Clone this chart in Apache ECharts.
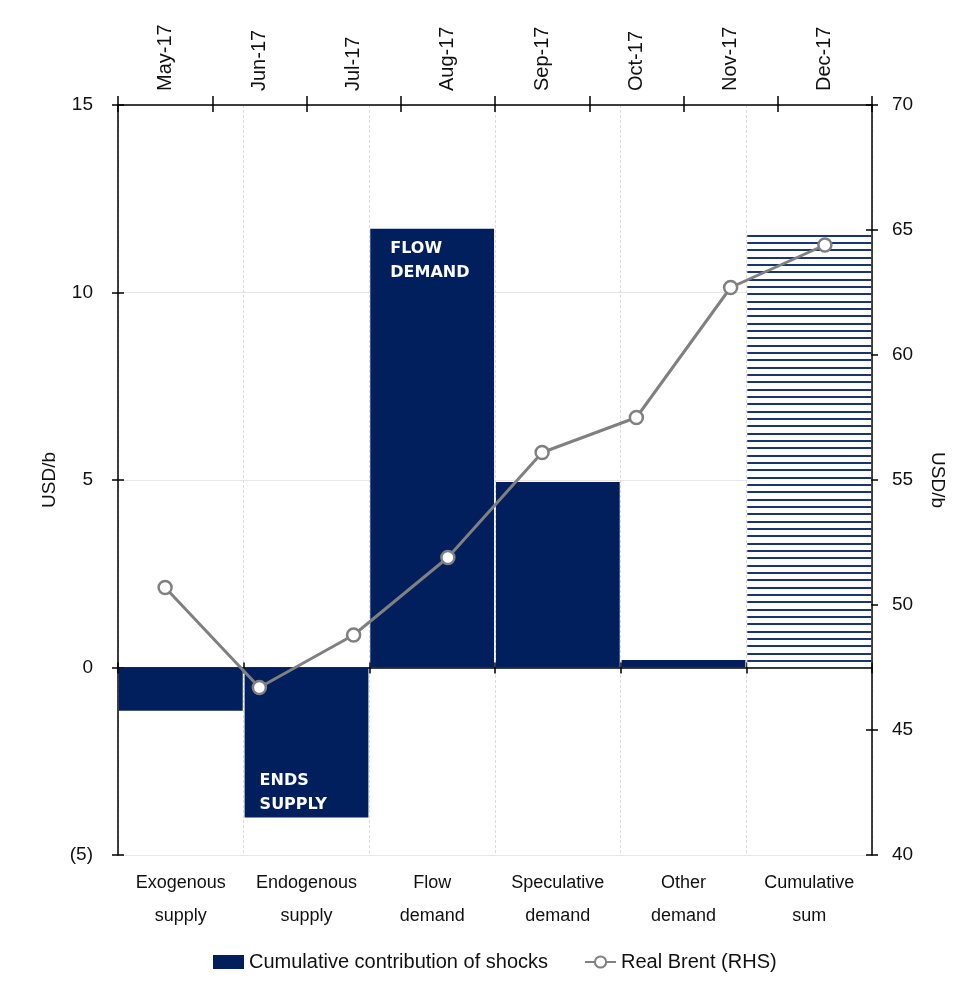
<!DOCTYPE html>
<html>
<head>
<meta charset="utf-8">
<script src="https://cdn.jsdelivr.net/npm/echarts@6/dist/echarts.min.js"></script>
<style>
  html, body { margin: 0; padding: 0; background: #fff; }
  #chart { width: 972px; height: 981px; }
</style>
</head>
<body>
<div id="chart"></div>
<script>
// Shock categories on the bottom axis
const categories = ['Exogenous\nsupply', 'Endogenous\nsupply', 'Flow\ndemand', 'Speculative\ndemand', 'Other\ndemand', 'Cumulative\nsum'];
// Cumulative contribution of each shock (USD/b)
const shocks = [-1.15, -4.0, 11.7, 4.95, 0.2, 11.55];
// Tags written inside selected bars
const barTags = ['', 'ENDS\nSUPPLY', 'FLOW\nDEMAND', '', '', ''];
// Months on the top axis
const months = ['May-17', 'Jun-17', 'Jul-17', 'Aug-17', 'Sep-17', 'Oct-17', 'Nov-17', 'Dec-17'];
// Real Brent price (USD/b, right axis)
const brent = [50.7, 46.7, 48.8, 51.9, 56.1, 57.5, 62.7, 64.4];

const NAVY = '#001F5C';
const GREY = '#808080';
const FONT = 'Liberation Sans, Arial, sans-serif';

// Horizontal-line hatch for the cumulative bar
function makeHatch() {
  const c = document.createElement('canvas');
  c.width = 8; c.height = 22;
  const ctx = c.getContext('2d');
  ctx.fillStyle = '#ffffff';
  ctx.fillRect(0, 0, 8, 22);
  ctx.fillStyle = '#1b3570';
  // three lines per tile, about 7.3px apart
  ctx.fillRect(0, 0, 8, 2);
  ctx.fillRect(0, 7, 8, 2);
  ctx.fillRect(0, 15, 8, 2);
  return { image: c, repeat: 'repeat' };
}
const hatch = makeHatch();

const barData = shocks.map((v, i) => {
  const item = { value: v };
  if (barTags[i]) {
    item.label = {
      show: true,
      formatter: barTags[i],
      position: v < 0 ? 'insideBottomLeft' : 'insideTopLeft',
      distance: v < 0 ? 1 : 8,
      padding: [0, 0, 0, v < 0 ? 14 : 12],
      color: '#ffffff',
      fontFamily: 'DejaVu Sans, sans-serif',
      fontWeight: 'bold',
      fontSize: 16,
      lineHeight: 24
    };
  }
  if (i === shocks.length - 1) {
    item.itemStyle = { color: hatch };
  }
  return item;
});

const chart = echarts.init(document.getElementById('chart'), null, { renderer: 'canvas' });

const axisLine = { show: true, onZero: false, lineStyle: { color: '#000', width: 1.5 } };

chart.setOption({
  animation: false,
  backgroundColor: '#ffffff',
  textStyle: { fontFamily: FONT },
  grid: { left: 118, right: 100, top: 105, bottom: 126, containLabel: false },
  legend: {
    left: 213,
    top: 952,
    padding: 0,
    itemWidth: 31,
    itemHeight: 14,
    itemGap: 36,
    textStyle: { fontSize: 20, color: '#111', fontFamily: FONT },
    data: [
      { name: 'Cumulative contribution of shocks', icon: 'rect' },
      { name: 'Real Brent (RHS)' }
    ]
  },
  xAxis: [
    { // category labels along the bottom edge
      type: 'category',
      data: categories,
      position: 'bottom',
      axisLine: { show: false, onZero: false },
      axisTick: { show: false },
      axisLabel: { fontSize: 18, color: '#111', lineHeight: 33, margin: 12, interval: 0 },
      splitLine: { show: true, lineStyle: { color: '#dcdcdc', type: [3, 2], width: 1 } }
    },
    { // month axis across the top
      type: 'category',
      data: months,
      position: 'top',
      axisLine: axisLine,
      axisTick: { show: true, length: 9, lineStyle: { color: '#000', width: 1.5 } },
      axisLabel: { rotate: -90, fontSize: 20, color: '#111', margin: 14, interval: 0 },
      splitLine: { show: false }
    },
    { // inner half of the top ticks
      type: 'category',
      data: months,
      position: 'top',
      axisLine: { show: false, onZero: false },
      axisTick: { show: true, inside: true, length: 7, lineStyle: { color: '#000', width: 1.5 } },
      axisLabel: { show: false },
      splitLine: { show: false }
    },
    { // zero line with downward ticks
      type: 'category',
      data: categories,
      position: 'bottom',
      axisLine: { show: true, onZero: true, onZeroAxisIndex: 0, lineStyle: { color: '#000', width: 1.5 } },
      axisTick: { show: true, length: 6, lineStyle: { color: '#000', width: 1.5 } },
      axisLabel: { show: false },
      splitLine: { show: false }
    },
    { // zero line upward ticks
      type: 'category',
      data: categories,
      position: 'bottom',
      axisLine: { show: false, onZero: true, onZeroAxisIndex: 0 },
      axisTick: { show: true, inside: true, length: 5, lineStyle: { color: '#000', width: 1.5 } },
      axisLabel: { show: false },
      splitLine: { show: false }
    }
  ],
  yAxis: [
    { // shocks, left
      type: 'value',
      min: -5, max: 15, interval: 5,
      position: 'left',
      name: 'USD/b',
      nameLocation: 'middle',
      nameGap: 58,
      nameRotate: 90,
      nameTextStyle: { fontSize: 19, color: '#111' },
      axisLine: axisLine,
      axisTick: { show: true, length: 6, lineStyle: { color: '#000', width: 1.5 } },
      axisLabel: {
        fontSize: 19, color: '#111', margin: 25,
        formatter: v => (v < 0 ? '(' + (-v) + ')' : String(v))
      },
      splitLine: { show: true, lineStyle: { color: '#e6e6e6', width: 1 } }
    },
    { // Brent, right
      type: 'value',
      min: 40, max: 70, interval: 5,
      position: 'right',
      name: 'USD/b',
      nameLocation: 'middle',
      nameGap: 56,
      nameRotate: -90,
      nameTextStyle: { fontSize: 19, color: '#111' },
      axisLine: axisLine,
      axisTick: { show: true, length: 6, lineStyle: { color: '#000', width: 1.5 } },
      axisLabel: { fontSize: 19, color: '#111', margin: 20 },
      splitLine: { show: false }
    },
    { // inner half of left ticks
      type: 'value',
      min: -5, max: 15, interval: 5,
      position: 'left',
      axisLine: { show: false, onZero: false },
      axisTick: { show: true, inside: true, length: 6, lineStyle: { color: '#000', width: 1.5 } },
      axisLabel: { show: false },
      splitLine: { show: false }
    },
    { // inner half of right ticks
      type: 'value',
      min: 40, max: 70, interval: 5,
      position: 'right',
      axisLine: { show: false, onZero: false },
      axisTick: { show: true, inside: true, length: 6, lineStyle: { color: '#000', width: 1.5 } },
      axisLabel: { show: false },
      splitLine: { show: false }
    }
  ],
  series: [
    {
      name: 'Cumulative contribution of shocks',
      type: 'bar',
      xAxisIndex: 0,
      yAxisIndex: 0,
      barCategoryGap: '1.5%',
      itemStyle: { color: NAVY },
      data: barData,
      z: 2
    },
    {
      name: 'Real Brent (RHS)',
      type: 'line',
      xAxisIndex: 1,
      yAxisIndex: 1,
      data: brent,
      symbol: 'circle',
      symbolSize: 13,
      showAllSymbol: true,
      lineStyle: { color: GREY, width: 3 },
      itemStyle: { color: '#ffffff', borderColor: GREY, borderWidth: 2.5 },
      z: 5
    }
  ]
});
</script>
</body>
</html>
